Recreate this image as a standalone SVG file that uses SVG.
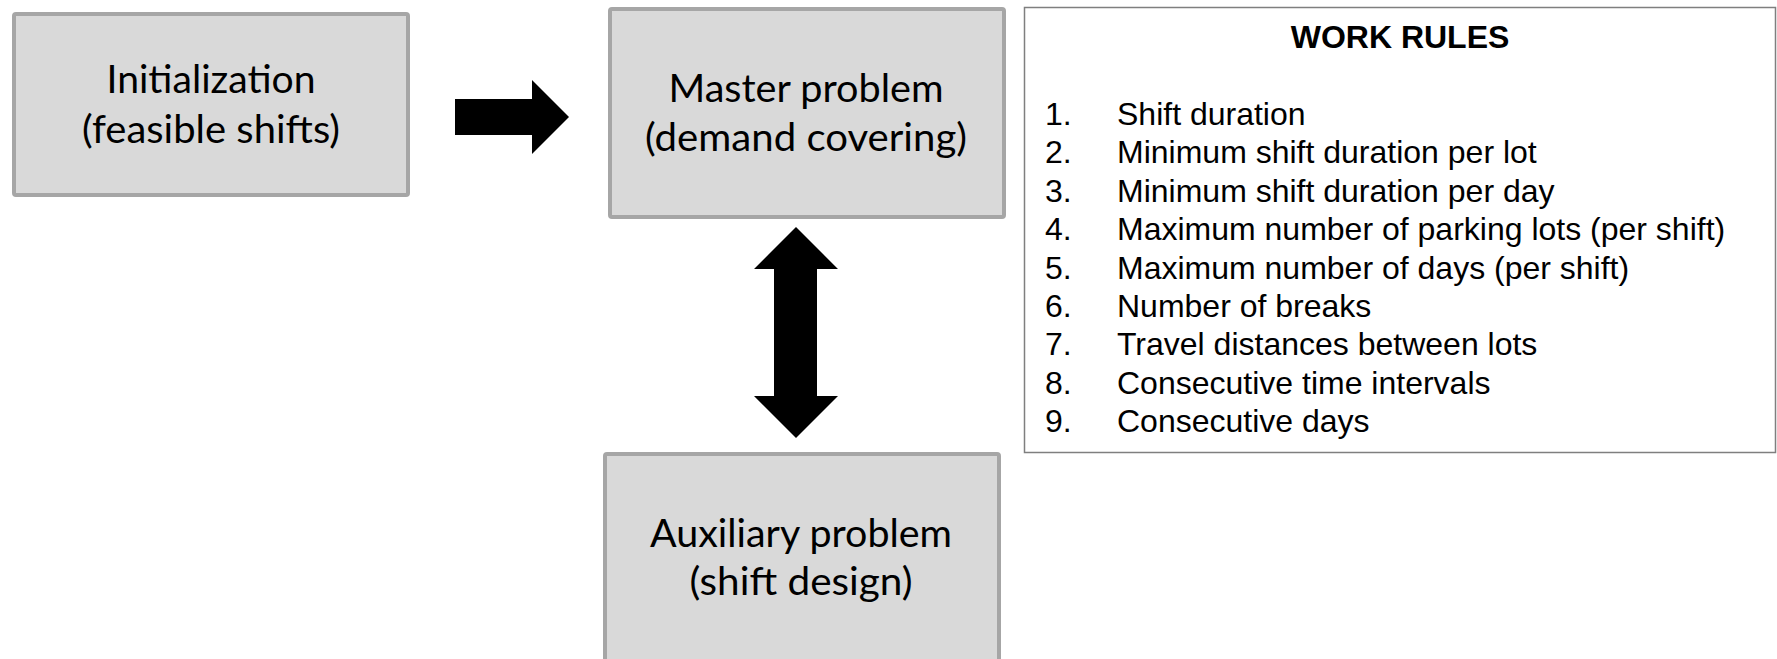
<svg xmlns="http://www.w3.org/2000/svg" width="1777" height="659" viewBox="0 0 1777 659">
<style>
.box{fill:#d9d9d9;stroke:#a6a6a6;stroke-width:4}
.bt{font-family:Lato,"Open Sans","Noto Sans",sans-serif;font-size:39px;fill:#000;text-anchor:middle}
.arr{fill:#000}
.rt{font-family:"Liberation Sans",Arial,sans-serif;font-size:32px;fill:#000}
.rh{font-family:"Liberation Sans",Arial,sans-serif;font-size:32px;font-weight:bold;fill:#000;text-anchor:middle}
</style>
<rect width="1777" height="659" fill="#fff"/>
<g id="init">
<rect class="box" x="14" y="14" width="394" height="181" rx="2"/>
<text class="bt" x="211" y="93" textLength="209" lengthAdjust="spacingAndGlyphs">Initialization</text>
<text class="bt" x="211" y="143" textLength="258" lengthAdjust="spacingAndGlyphs">(feasible shifts)</text>
</g>
<g id="master">
<rect class="box" x="610" y="9" width="394" height="208" rx="2"/>
<text class="bt" x="806" y="102" textLength="275" lengthAdjust="spacingAndGlyphs">Master problem</text>
<text class="bt" x="806" y="151" textLength="322" lengthAdjust="spacingAndGlyphs">(demand covering)</text>
</g>
<g id="aux">
<rect class="box" x="605" y="454" width="394" height="260" rx="2"/>
<text class="bt" x="801" y="547" textLength="302" lengthAdjust="spacingAndGlyphs">Auxiliary problem</text>
<text class="bt" x="801" y="595" textLength="223" lengthAdjust="spacingAndGlyphs">(shift design)</text>
</g>
<g id="rules">
<rect x="1024.5" y="7.5" width="751" height="445" fill="#fff" stroke="#7f7f7f" stroke-width="1.5"/>
<text class="rh" x="1400" y="48">WORK RULES</text>
<text class="rt" x="1045" y="125">1.</text><text class="rt" x="1117" y="125">Shift duration</text>
<text class="rt" x="1045" y="163">2.</text><text class="rt" x="1117" y="163">Minimum shift duration per lot</text>
<text class="rt" x="1045" y="202">3.</text><text class="rt" x="1117" y="202">Minimum shift duration per day</text>
<text class="rt" x="1045" y="240">4.</text><text class="rt" x="1117" y="240">Maximum number of parking lots (per shift)</text>
<text class="rt" x="1045" y="279">5.</text><text class="rt" x="1117" y="279">Maximum number of days (per shift)</text>
<text class="rt" x="1045" y="317">6.</text><text class="rt" x="1117" y="317">Number of breaks</text>
<text class="rt" x="1045" y="355">7.</text><text class="rt" x="1117" y="355">Travel distances between lots</text>
<text class="rt" x="1045" y="394">8.</text><text class="rt" x="1117" y="394">Consecutive time intervals</text>
<text class="rt" x="1045" y="432">9.</text><text class="rt" x="1117" y="432">Consecutive days</text>
</g>
<g id="connectors">
<polygon class="arr" points="455,99 532,99 532,80 569,117 532,154 532,135 455,135"/>
<polygon class="arr" points="796,227 838,269 817,269 817,396 838,396 796,438 754,396 774,396 774,269 754,269"/>
</g>
</svg>
